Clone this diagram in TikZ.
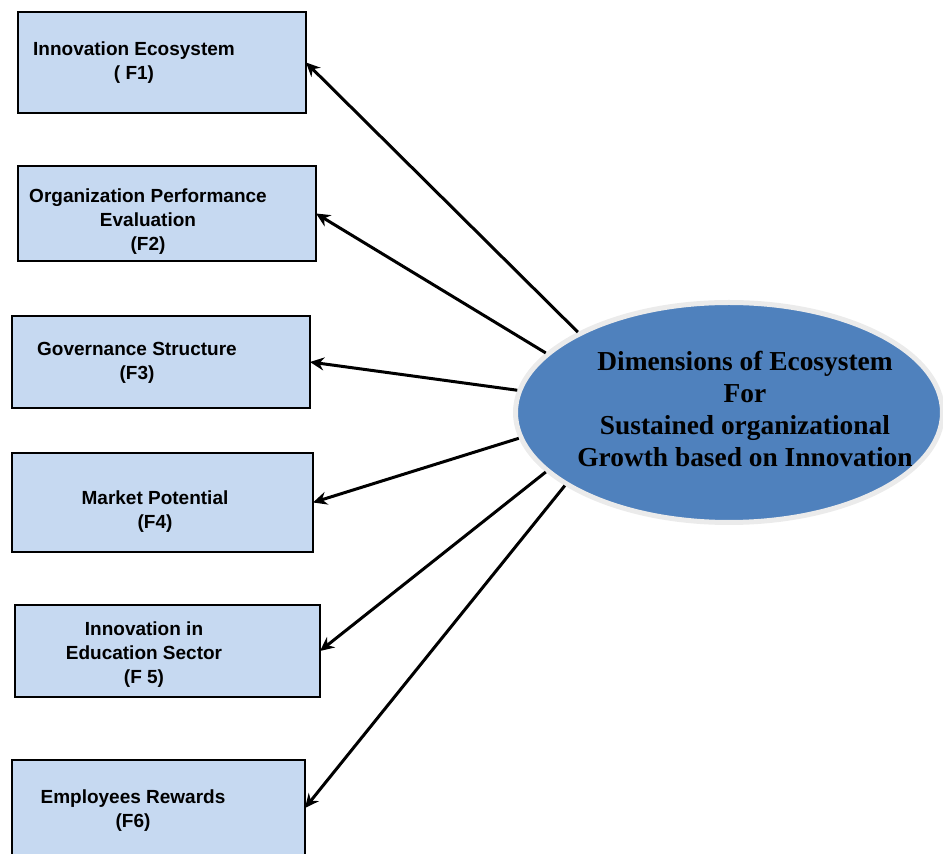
\documentclass[tikz,border=0pt]{standalone}
\usepackage{fontspec}
\setmainfont{Liberation Serif}
\newfontfamily\boxfont{Liberation Sans}
\usetikzlibrary{shapes.geometric, arrows.meta}
\definecolor{boxblue}{HTML}{C6D9F1}
\definecolor{ellblue}{HTML}{4F81BD}

\begin{document}
\begin{tikzpicture}[
    x = 0.5pt,
    y = -0.5pt,
    link/.style = {-{Stealth[length=7pt, width=6.5pt]}, black, solid, line width=1.5pt},
    factor/.style = {rectangle, draw=black, fill=boxblue, line width=1pt,
              inner sep=0pt, outer sep=0pt},
    flabel/.style = {font=\boxfont\bfseries\fontsize{9.5}{12}\selectfont,
              align=center, inner sep=0pt},
    dimension/.style = {ellipse, draw=black!8, fill=ellblue, line width=2.5pt,
              minimum width=213.5pt, minimum height=110pt, inner sep=0pt},
    dlabel/.style = {font=\bfseries\fontsize{13.7}{16}\selectfont,
              align=center, inner sep=0pt},
    ]

\clip (0,0) rectangle (943,854);

\node[factor, minimum width=144pt, minimum height=50.5pt] (f1) at (162,62.5){};
\node[factor, minimum width=149pt, minimum height=47.5pt] (f2) at (167,213.5){};
\node[factor, minimum width=149pt, minimum height=46pt] (f3) at (161,362){};
\node[factor, minimum width=150.5pt, minimum height=49.5pt] (f4) at (162.5,502.5){};
\node[factor, minimum width=152.5pt, minimum height=46pt] (f5) at (167.5,651){};
\node[factor, minimum width=146.5pt, minimum height=48pt] (f6) at (158.5,808){};

\node[flabel] (f1_text) at (134,63){Innovation Ecosystem\\( F1)};
\node[flabel] (f2_text) at (148,222){Organization Performance\\Evaluation\\(F2)};
\node[flabel] (f3_text) at (137,363){Governance Structure\\(F3)};
\node[flabel] (f4_text) at (155,512){Market Potential\\(F4)};
\node[flabel] (f5_text) at (144,655){Innovation in\\Education Sector\\(F 5)};
\node[flabel] (f6_text) at (133,811){Employees Rewards\\(F6)};

\node[dimension] (dim) at (729,412.5){};
\node[dlabel] (dim_text) at (745,409){Dimensions of Ecosystem\\For\\Sustained organizational\\Growth based on Innovation};

\draw [link] (dim.152.2) -- (f1.east);
\draw [link] (dim.162.6) -- (f2.east);
\draw [link] (dim.174.7) -- (f3.east);
\draw [link] (dim.187.2) -- (f4.east);
\draw [link] (dim.198.1) -- (f5.east);
\draw [link] (dim.204.7) -- (f6.east);

\end{tikzpicture}
\end{document}
